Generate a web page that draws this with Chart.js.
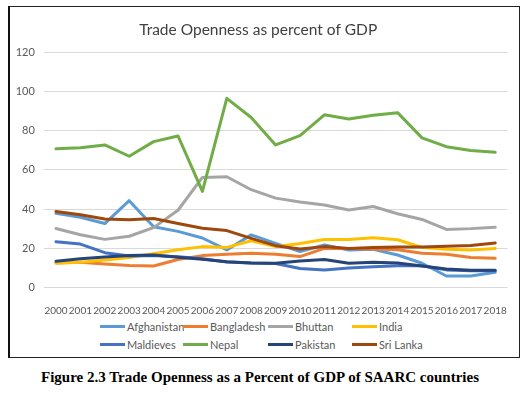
<!DOCTYPE html>
<html>
<head>
<meta charset="utf-8">
<script src="https://cdn.jsdelivr.net/npm/chart.js@4.4.0/dist/chart.umd.min.js"></script>
<style>
  body { margin: 0; background: #fff; width: 531px; height: 397px; position: relative; overflow: hidden; font-family: Lato, sans-serif; }
  #frame { position: absolute; left: 8px; top: 6px; width: 512px; height: 352px; border: 1px solid #222; border-left: 2px solid #111; box-sizing: border-box; }
  #chart { position: absolute; left: 9px; top: 7px; }
  .item { position: absolute; height: 14px; font-size: 11px; color: #595959; display: flex; align-items: center; white-space: nowrap; }
  .item .line { display: inline-block; width: 25px; height: 3px; margin-right: 2px; }
  #caption { position: absolute; left: 0; width: 520px; top: 369px; text-align: center; font-family: "Liberation Serif", serif; font-weight: bold; font-size: 15px; color: #000; }
</style>
</head>
<body>
<div id="frame"></div>
<canvas id="chart" width="510" height="310"></canvas>
<div id="legend"></div>
<div id="caption">Figure 2.3 Trade Openness as a Percent of GDP of SAARC countries</div>
<script>
/* values */
var years = ['2000','2001','2002','2003','2004','2005','2006','2007','2008','2009',
             '2010','2011','2012','2013','2014','2015','2016','2017','2018'];
var afghanistan = [37.8, 35.8, 32.6, 44.3, 31, 28.6, 25.2, 19.1, 26.8, 22.5, 18.3, 21.6, 19.1, 19.4, 16.5, 12.3, 5.8, 5.8, 7.7];
var bangladesh  = [12.4, 12.8, 11.9, 11.1, 10.9, 14.2, 16.2, 16.9, 17.4, 16.9, 15.7, 19.9, 19.8, 19.6, 19.2, 17.4, 16.9, 15.2, 14.8];
var bhuttan     = [30.1, 26.9, 24.5, 26.1, 30.5, 39.4, 56.2, 56.5, 49.9, 45.6, 43.6, 42.1, 39.5, 41.3, 37.6, 34.7, 29.6, 30, 30.7];
var india       = [12.4, 12.8, 13.9, 15.2, 17.2, 19.2, 20.8, 20.4, 23.8, 20.8, 22.4, 24.4, 24.5, 25.3, 24.3, 20.4, 19.4, 19.1, 19.9];
var maldieves   = [23.3, 22.1, 17.7, 16, 16.2, 15.6, 14.6, 12.9, 12.4, 12.2, 9.6, 8.9, 9.9, 10.5, 11, 11, 8.9, 8.4, 8.4];
var nepal       = [70.8, 71.4, 72.8, 67, 74.5, 77.4, 49, 96.6, 86.8, 72.8, 77.6, 88.2, 86.1, 88, 89.3, 76.4, 71.9, 69.9, 69];
var pakistan    = [13.3, 14.6, 15.5, 16.3, 16.5, 15.4, 14.3, 13.1, 12.4, 12.3, 13.5, 14.2, 12.3, 12.8, 12.4, 10.9, 9.3, 8.7, 8.7];
var sri_lanka   = [38.8, 37.1, 34.9, 34.5, 35.2, 32.6, 30.2, 29, 25, 21.3, 19.6, 20.8, 19.9, 20.3, 20.6, 20.6, 21, 21.4, 22.7];
var series_names = ['Afghanistan', 'Bangladesh', 'Bhuttan', 'India', 'Maldieves', 'Nepal', 'Pakistan', 'Sri Lanka'];
var series_values = [afghanistan, bangladesh, bhuttan, india, maldieves, nepal, pakistan, sri_lanka];
var series_colors = ['#5B9BD5', '#ED7D31', '#A5A5A5', '#FFC000', '#4472C4', '#70AD47', '#264478', '#9E480E'];
var y_min = 0, y_max = 120, y_step = 20;

/* one dataset per country, later ones drawn on top like Excel */
var datasets = series_names.map(function (name, i) {
  return {
    label: name,
    data: series_values[i],
    borderColor: series_colors[i],
    backgroundColor: series_colors[i],
    borderWidth: 3,
    pointRadius: 0,
    tension: 0,
    borderJoinStyle: 'round',
    borderCapStyle: 'round',
    order: series_names.length - i
  };
});

const ctx = document.getElementById('chart');
const chart = new Chart(ctx, {
  type: 'line',
  data: { labels: years, datasets: datasets },
  options: {
    responsive: false,
    animation: false,
    events: [],
    layout: { padding: { left: 0, right: 11.6, top: 0, bottom: 0 } },
    plugins: {
      legend: { display: false },
      tooltip: { enabled: false },
      title: {
        display: true,
        text: 'Trade Openness as percent of GDP',
        color: '#404040',
        font: { family: 'Lato', size: 15.5, weight: 'normal' },
        padding: { top: 13.5, bottom: 13.5 }
      }
    },
    scales: {
      x: {
        offset: true,
        grid: { display: false },
        border: { display: false },
        ticks: {
          autoSkip: false, maxRotation: 0, minRotation: 0, padding: 9,
          color: '#595959', font: { family: 'Lato', size: 10 }
        },
        afterFit: function (s) { s.height = 29.7; }
      },
      y: {
        min: y_min, max: y_max,
        grid: { color: '#d9d9d9', drawTicks: false },
        border: { display: false },
        ticks: {
          stepSize: y_step, padding: 9,
          color: '#595959', font: { family: 'Lato', size: 11 }
        },
        afterFit: function (s) { s.width = 34.8; }
      }
    }
  }
});

/* Excel-style legend in a 4 column grid */
var legend_cols = [100, 183, 268, 352];
var legend_rows = [319, 337];
var legend = document.getElementById('legend');
chart.data.datasets.forEach(function (ds, i) {
  var item = document.createElement('div');
  item.className = 'item';
  item.style.left = legend_cols[i % 4] + 'px';
  item.style.top = legend_rows[Math.floor(i / 4)] + 'px';
  item.innerHTML = '<span class="line" style="background:' + ds.borderColor + '"></span>' + ds.label;
  legend.appendChild(item);
});
</script>
</body>
</html>
